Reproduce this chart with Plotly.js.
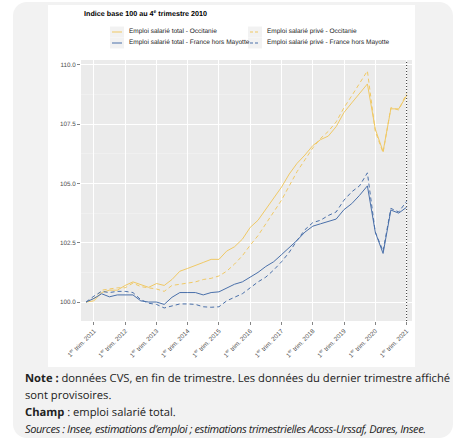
<!DOCTYPE html>
<html><head><meta charset="utf-8">
<script src="https://cdn.plot.ly/plotly-3.0.1.min.js"></script>
<style>
*{text-rendering:geometricPrecision}
body{margin:0;background:#fff;width:460px;height:444px;overflow:hidden;position:relative}
#panel{position:absolute;left:13px;top:2px;width:440px;height:436px;background:#f2f2f2;border-radius:14px}
#chart{position:absolute;left:48px;top:5px;width:367px;height:362px;background:#fff}
#notes{position:absolute;left:25px;top:370px;width:432px;font-family:"Open Sans",sans-serif;font-size:11.2px;line-height:17px;color:#222}
#notes .src{font-style:italic;letter-spacing:-0.4px;font-size:11px}
</style></head>
<body>
<div id="panel"></div>
<div id="chart"></div>
<div id="notes">
<div><b>Note :</b> données CVS, en fin de trimestre. Les données du dernier trimestre affiché sont provisoires.</div>
<div><b>Champ</b> : emploi salarié total.</div>
<div class="src">Sources : Insee, estimations d’emploi ; estimations trimestrielles Acoss-Urssaf, Dares, Insee.</div>
</div>
<script>
const quarters = ["2010-10-01",
"2011-01-01","2011-04-01","2011-07-01","2011-10-01",
"2012-01-01","2012-04-01","2012-07-01","2012-10-01",
"2013-01-01","2013-04-01","2013-07-01","2013-10-01",
"2014-01-01","2014-04-01","2014-07-01","2014-10-01",
"2015-01-01","2015-04-01","2015-07-01","2015-10-01",
"2016-01-01","2016-04-01","2016-07-01","2016-10-01",
"2017-01-01","2017-04-01","2017-07-01","2017-10-01",
"2018-01-01","2018-04-01","2018-07-01","2018-10-01",
"2019-01-01","2019-04-01","2019-07-01","2019-10-01",
"2020-01-01","2020-04-01","2020-07-01","2020-10-01",
"2021-01-01"];

const occTotal = [100.0,100.05,100.4,100.5,100.5,100.7,100.85,100.72,100.62,100.78,
100.7,100.95,101.3,101.42,101.53,101.67,101.8,101.8,102.15,102.33,
102.65,103.15,103.45,103.9,104.35,104.85,105.4,105.85,106.2,106.6,
106.85,107.0,107.4,108.0,108.4,108.8,109.2,107.3,106.35,108.15,
108.15,108.7];
const occPrive = [100.0,100.15,100.5,100.55,100.6,100.6,100.8,100.65,100.6,100.55,
100.45,100.7,100.75,100.8,100.85,100.95,101.0,101.1,101.3,101.6,
101.95,102.4,102.8,103.3,103.8,104.3,104.9,105.5,106.0,106.5,
106.9,107.2,107.6,108.2,108.7,109.2,109.75,107.2,106.3,108.2,
108.1,108.8];
const franceTotal = [100.0,100.15,100.35,100.22,100.3,100.3,100.3,100.05,100.0,100.0,
99.9,100.2,100.4,100.4,100.4,100.3,100.4,100.43,100.6,100.75,
100.85,101.05,101.25,101.5,101.7,102.0,102.3,102.6,102.95,103.2,
103.3,103.4,103.5,103.9,104.15,104.5,104.9,102.95,102.05,103.88,
103.75,104.0];
const francePrive = [100.0,100.25,100.45,100.4,100.45,100.45,100.4,100.1,99.95,99.9,
99.75,99.85,99.92,99.92,99.9,99.8,99.78,99.8,100.05,100.2,
100.35,100.6,100.85,101.05,101.35,101.7,102.1,102.6,103.05,103.35,
103.45,103.65,103.8,104.3,104.65,104.9,105.45,102.95,102.15,103.95,
103.8,104.25];

const seriesNames = ["Emploi salarié total - Occitanie","Emploi salarié privé - Occitanie",
"Emploi salarié total - France hors Mayotte","Emploi salarié privé - France hors Mayotte"];
const tickYears = ["2011","2012","2013","2014","2015","2016","2017","2018","2019","2020","2021"];
const yTicks = [100, 102.5, 105, 107.5, 110];
const titleText = "Indice base 100 au 4<sup>e</sup> trimestre 2010";

const YELLOW = "#f0c965", BLUE = "#4a70aa";
const styles = [
  {color: YELLOW, dash: "solid"},
  {color: YELLOW, dash: "4px,3px"},
  {color: BLUE, dash: "solid"},
  {color: BLUE, dash: "4px,3px"}
];
const values = [occTotal, occPrive, franceTotal, francePrive];

const traces = values.map((v, i) => ({
  type: "scatter", mode: "lines", x: quarters, y: v, name: seriesNames[i],
  line: {color: styles[i].color, width: 1, dash: styles[i].dash},
  showlegend: false, hoverinfo: "skip"
}));

// plot area geometry (pixels in the chart div)
const W = 367, H = 362, L = 33, R = 3, T = 55, B = 46;
const pw = W - L - R, ph = H - T - B;
const px = X => (X - 48 - L) / pw;       // page x -> paper
const py = Y => (H - B - (Y - 5)) / ph;  // page y -> paper

const shapes = [];
const annotations = [];
// last-quarter marker
shapes.push({type: "line", xref: "x", yref: "paper", x0: quarters[quarters.length-1], x1: quarters[quarters.length-1],
  y0: 0, y1: 1, line: {color: "#333", width: 1, dash: "1px,2px"}});

// legend (manual, ggplot style)
const legendCols = [{kx0: 110, kx1: 124, lx0: 112, lx1: 122, tx: 126.5}, {kx0: 248, kx1: 262, lx0: 250, lx1: 260, tx: 264.5}];
const legendRows = [32, 43];
const legendPos = [[0,0],[1,0],[0,1],[1,1]]; // [col,row] for each series
legendPos.forEach(([c, r], i) => {
  const col = legendCols[c], yc = legendRows[r];
  shapes.push({type: "rect", xref: "paper", yref: "paper", x0: px(col.kx0), x1: px(col.kx1),
    y0: py(yc - 5.5), y1: py(yc + 5.5), fillcolor: "#f2f2f2", line: {width: 0}, layer: "below"});
  shapes.push({type: "line", xref: "paper", yref: "paper", x0: px(col.lx0), x1: px(col.lx1),
    y0: py(yc), y1: py(yc), line: {color: styles[i].color, width: 1, dash: styles[i].dash === "solid" ? "solid" : "3px,2px"}});
  annotations.push({xref: "paper", yref: "paper", x: px(col.tx), y: py(yc), xanchor: "left", yanchor: "middle",
    text: seriesNames[i], showarrow: false, font: {family: "Liberation Sans, Arial", size: 6.5, color: "#1a1a1a"}});
});
annotations.push({xref: "paper", yref: "paper", x: px(81.5), y: py(13), xanchor: "left", yanchor: "middle",
  text: "<b>" + titleText + "</b>", showarrow: false, font: {family: "Liberation Sans, Arial", size: 7.2, color: "#000"}});

const layout = {
  width: W, height: H,
  margin: {l: L, r: R, t: T, b: B, pad: 0},
  paper_bgcolor: "#fff", plot_bgcolor: "#ebebeb",
  showlegend: false,
  xaxis: {
    type: "date", range: ["2010-08-03", "2021-03-05"],
    tickmode: "array", tickvals: tickYears.map(y => y + "-01-01"),
    ticktext: tickYears.map(y => "1<sup>er</sup> trim. " + y),
    tickangle: -45, ticks: "outside", ticklen: 3, tickcolor: "#333", tickwidth: 0.6,
    tickfont: {family: "Liberation Sans, Arial", size: 6.3, color: "#4d4d4d"},
    showgrid: true, gridcolor: "#fff", gridwidth: 1, zeroline: false, showline: false
  },
  yaxis: {
    range: [99.2, 110.21], tickmode: "array", tickvals: yTicks, ticktext: yTicks.map(v => v.toFixed(1)),
    ticks: "outside", ticklen: 3, tickcolor: "#333", tickwidth: 0.6,
    tickfont: {family: "Liberation Sans, Arial", size: 6.3, color: "#4d4d4d"},
    showgrid: true, gridcolor: "#fff", gridwidth: 1, zeroline: false, showline: false,
    minor: {tickmode: "array", tickvals: [101.25, 103.75, 106.25, 108.75], showgrid: true, gridcolor: "#f6f6f6", gridwidth: 0.5, ticks: ""}
  },
  shapes: shapes, annotations: annotations
};
Plotly.newPlot("chart", traces, layout, {staticPlot: true, displayModeBar: false});
</script>
</body></html>
